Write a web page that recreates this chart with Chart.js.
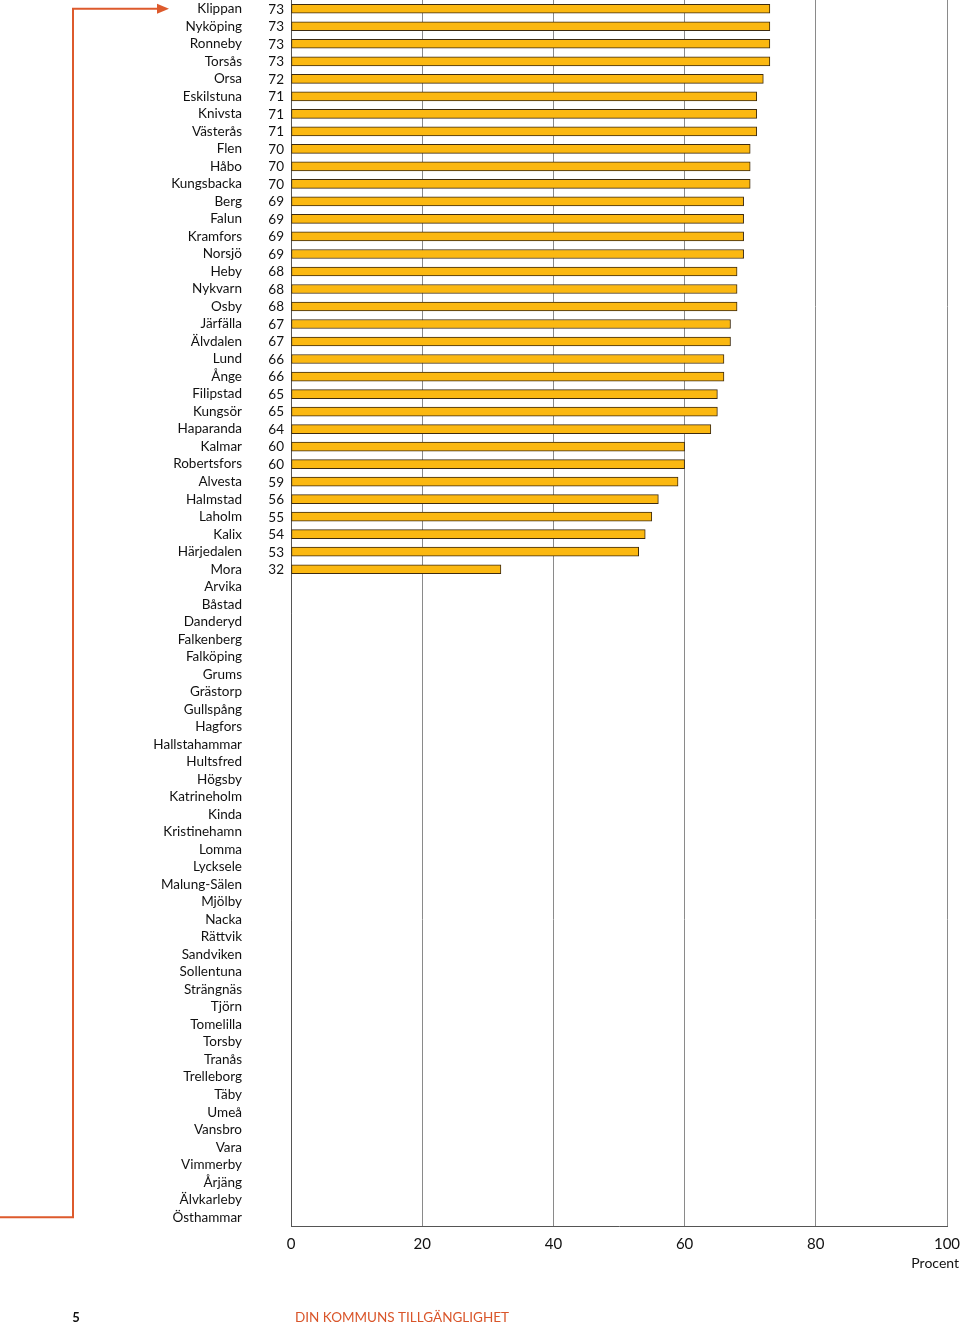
<!DOCTYPE html>
<html>
<head>
<meta charset="utf-8">
<script src="https://cdn.jsdelivr.net/npm/chart.js@4/dist/chart.umd.min.js"></script>
<style>
  html, body { margin: 0; padding: 0; background: #fff; }
  #wrap { position: relative; width: 960px; height: 1327px; }
</style>
</head>
<body>
<div id="wrap"><canvas id="kommunChart"></canvas></div>
<script>
// municipalities, top to bottom
var kommuner = ['Klippan','Nyköping','Ronneby','Torsås','Orsa','Eskilstuna','Knivsta','Västerås','Flen','Håbo',
  'Kungsbacka','Berg','Falun','Kramfors','Norsjö','Heby','Nykvarn','Osby','Järfälla','Älvdalen',
  'Lund','Ånge','Filipstad','Kungsör','Haparanda','Kalmar','Robertsfors','Alvesta','Halmstad','Laholm',
  'Kalix','Härjedalen','Mora','Arvika','Båstad','Danderyd','Falkenberg','Falköping','Grums','Grästorp',
  'Gullspång','Hagfors','Hallstahammar','Hultsfred','Högsby','Katrineholm','Kinda','Kristinehamn','Lomma','Lycksele',
  'Malung-Sälen','Mjölby','Nacka','Rättvik','Sandviken','Sollentuna','Strängnäs','Tjörn','Tomelilla','Torsby',
  'Tranås','Trelleborg','Täby','Umeå','Vansbro','Vara','Vimmerby','Årjäng','Älvkarleby','Östhammar'];

// percent per municipality (only the first ones have a value)
var procent = [73,73,73,73,72,71,71,71,70,70,
  70,69,69,69,69,68,68,68,67,67,
  66,66,65,65,64,60,60,59,56,55,
  54,53,32];

var xTicks = [0, 20, 40, 60, 80, 100];

var data = kommuner.map(function(k, i) { return i < procent.length ? procent[i] : null; });

var FONT = 'Lato, "Open Sans", sans-serif';

// value column, bracket, unit label and footer
var extras = {
  id: 'extras',
  afterDraw: function(chart) {
    var ctx = chart.ctx;
    var y = chart.scales.y;
    ctx.save();
    ctx.font = '13.5px ' + FONT;
    ctx.fillStyle = '#111';
    ctx.textAlign = 'right';
    ctx.textBaseline = 'middle';
    procent.forEach(function(v, i) {
      ctx.fillText(String(v), 284, y.getPixelForValue(i) + 0.5);
    });

    // orange bracket
    var top = y.getPixelForValue(0);
    var bot = y.getPixelForValue(kommuner.length - 1);
    ctx.strokeStyle = '#dd5a2c';
    ctx.lineWidth = 2;
    ctx.beginPath();
    ctx.moveTo(160, top);
    ctx.lineTo(73, top);
    ctx.lineTo(73, bot);
    ctx.lineTo(0, bot);
    ctx.stroke();
    ctx.fillStyle = '#dd5a2c';
    ctx.beginPath();
    ctx.moveTo(169, top);
    ctx.lineTo(157, top - 5);
    ctx.lineTo(157, top + 5);
    ctx.closePath();
    ctx.fill();

    ctx.fillStyle = '#111';
    ctx.font = '14px ' + FONT;
    ctx.textAlign = 'right';
    ctx.fillText('Procent', 959, 1263);

    ctx.font = 'bold 13px ' + FONT;
    ctx.textAlign = 'center';
    ctx.fillText('5', 76, 1318);

    ctx.font = '13.5px ' + FONT;
    ctx.fillStyle = '#d9552a';
    ctx.textAlign = 'left';
    ctx.fillText('DIN KOMMUNS TILLGÄNGLIGHET', 295, 1318);
    ctx.restore();
  }
};

new Chart(document.getElementById('kommunChart'), {
  type: 'bar',
  data: {
    labels: kommuner,
    datasets: [{
      data: data,
      backgroundColor: '#fbb811',
      borderColor: '#3d2b10',
      borderWidth: 1,
      borderSkipped: false,
      barThickness: 9
    }]
  },
  options: {
    indexAxis: 'y',
    responsive: true,
    maintainAspectRatio: false,
    animation: false,
    layout: { padding: { left: 0, right: 0, top: 0, bottom: 61 } },
    plugins: { legend: { display: false }, tooltip: { enabled: false } },
    scales: {
      x: {
        min: 0, max: 100,
        afterBuildTicks: function(s) { s.ticks = xTicks.map(function(v) { return { value: v }; }); },
        afterFit: function(s) { s.height = 40; s.paddingLeft = 0; s.paddingRight = 13; },
        grid: { color: '#8a8a8a', lineWidth: 1, drawTicks: false },
        border: { display: true, color: '#555', width: 1 },
        ticks: { padding: 9, color: '#111', font: { family: FONT, size: 15 } }
      },
      y: {
        afterFit: function(s) { s.width = 291; s.paddingTop = 0; s.paddingBottom = 0; },
        grid: { display: false, drawTicks: true, tickLength: 49 },
        border: { display: true, color: '#555', width: 1 },
        ticks: { padding: 0, color: '#111', autoSkip: false, font: { family: FONT, size: 13.5 } }
      }
    }
  },
  plugins: [extras]
});
</script>
</body>
</html>
